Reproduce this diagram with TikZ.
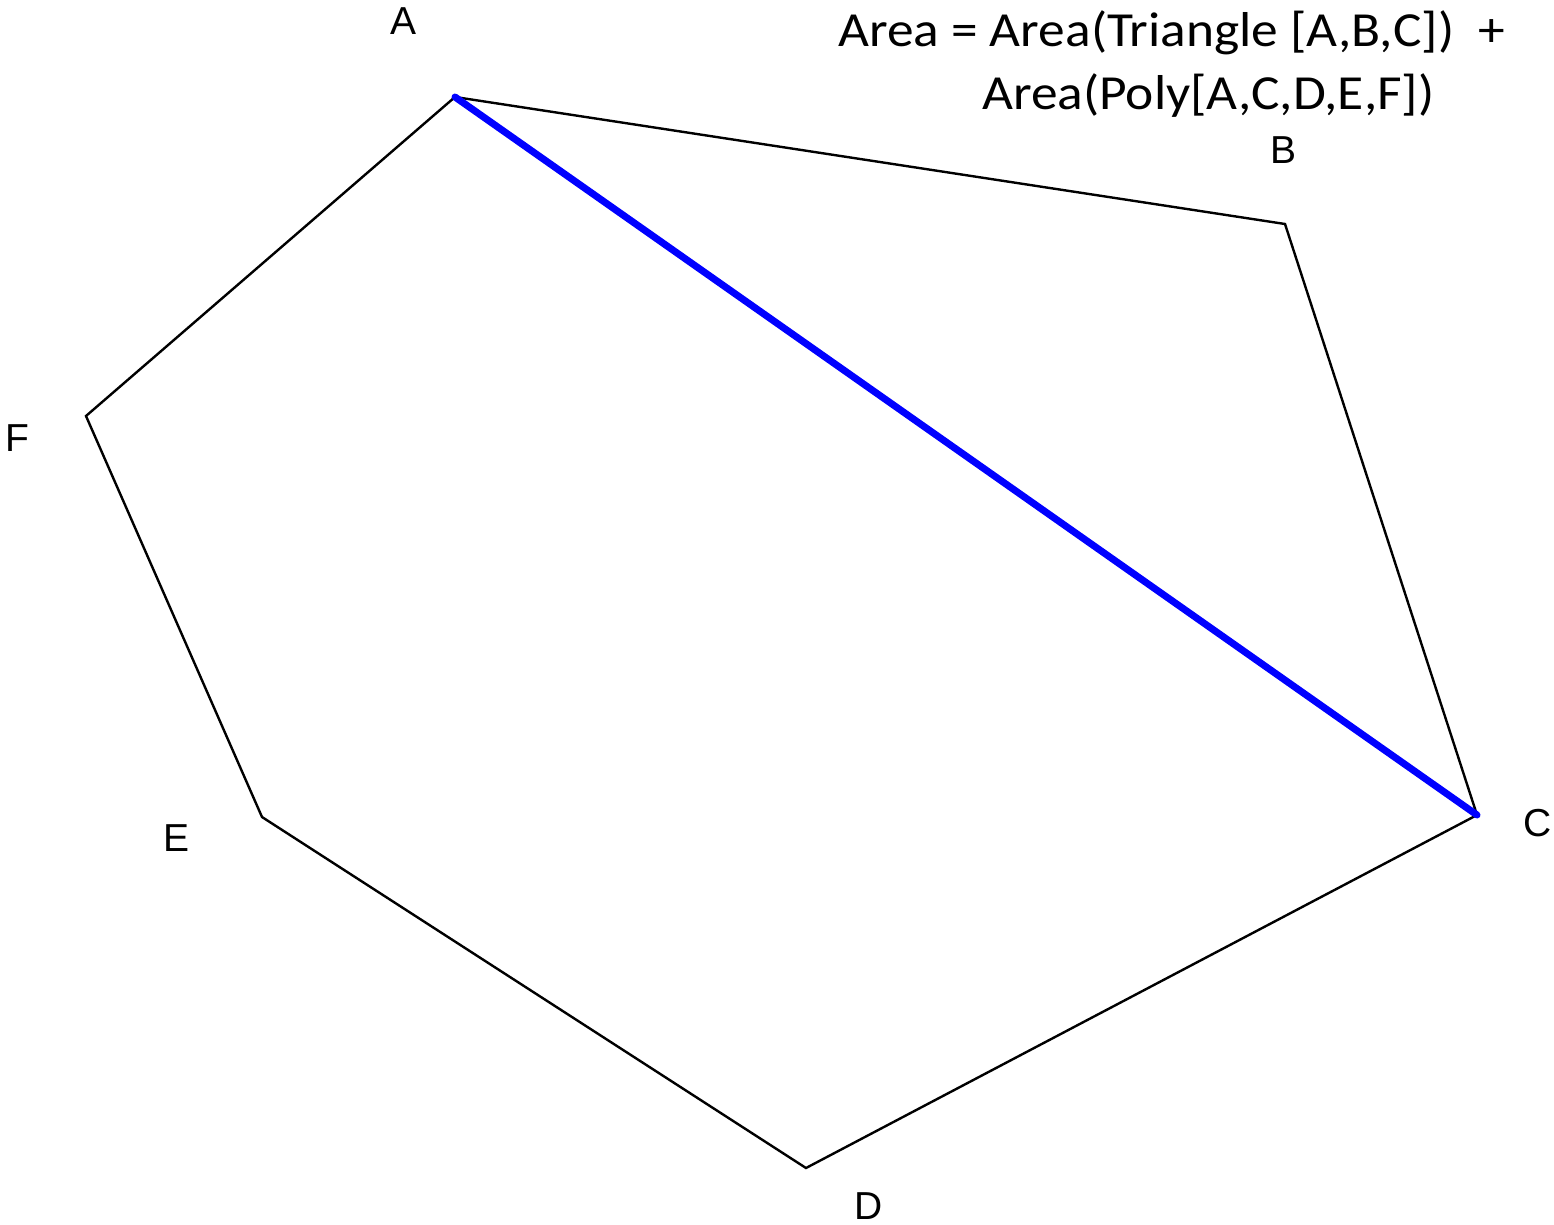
\documentclass[tikz,border=0pt]{standalone}
\usepackage{fontspec}
\setmainfont{Carlito}
\newfontfamily\labelfont{Liberation Sans}
\newfontfamily\formulafont[FakeStretch=1.09]{Carlito}
\usepackage{tikz}
\usetikzlibrary{positioning}
\definecolor{diagline}{RGB}{0,0,255}
\tikzset{
  edge/.style={draw=black, line width=2.4pt, line join=miter},
  diag/.style={draw=diagline, line width=7pt, line cap=round},
  vlabel/.style={font=\labelfont\fontsize{39}{44}\selectfont, inner sep=0pt, anchor=base},
  formula/.style={font=\formulafont\fontsize{49}{58}\selectfont, inner sep=0pt, anchor=base west}
}
\begin{document}
\begin{tikzpicture}[x=1pt, y=-1pt]
  \useasboundingbox (0,0) rectangle (1554,1225);

  % polygon corners
  \coordinate (a) at (455,97);
  \coordinate (b) at (1285,224);
  \coordinate (c) at (1477,815);
  \coordinate (d) at (806,1168);
  \coordinate (e) at (262,817);
  \coordinate (f) at (86,416);

  % corner names
  \node[vlabel] (la) at (403,35) {A};
  \node[vlabel] (lb) at (1283,164) {B};
  \node[vlabel] (lc) at (1538,836) {C};
  \node[vlabel] (ld) at (869,1219) {D};
  \node[vlabel] (le) at (177,851) {E};
  \node[vlabel] (lf) at (17,451) {F};

  % formula
  \node[formula] (sum) at (838,47) {Area = Area(Triangle [A,B,C])\ \ +};
  \node[formula] (rest) at (982,110) {Area(Poly[A,C,D,E,F])};

  \draw[edge] (a) -- (b) -- (c) -- (d) -- (e) -- (f) -- cycle;
  \draw[diag] (a) -- (c);
\end{tikzpicture}
\end{document}
